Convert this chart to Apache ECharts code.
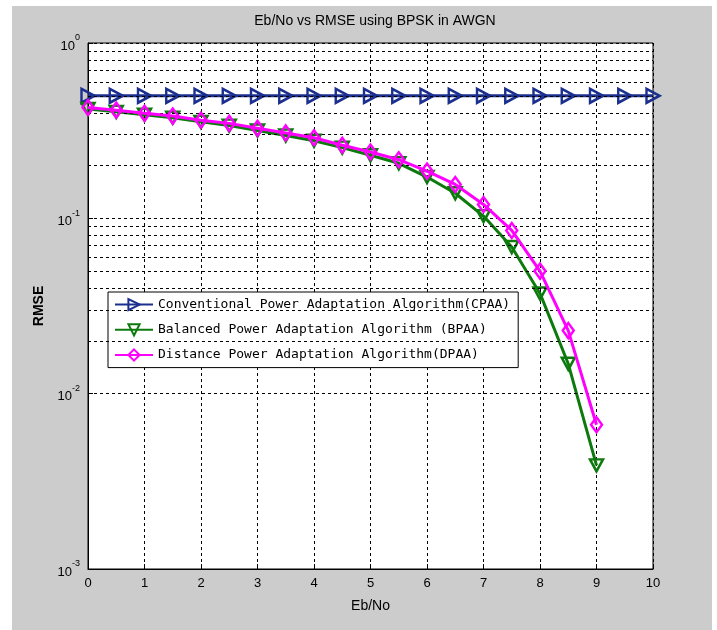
<!DOCTYPE html>
<html>
<head>
<meta charset="utf-8">
<script src="https://cdn.jsdelivr.net/npm/echarts@6/dist/echarts.min.js"></script>
<style>
html,body{margin:0;padding:0;background:#fff;}
#chart{width:717px;height:630px;}
</style>
</head>
<body>
<div id="chart"></div>
<script>
// ---- data ----
var titleText = 'Eb/No vs RMSE using BPSK in AWGN';
var xLabel = 'Eb/No';
var yLabel = 'RMSE';
var seriesNames = [
  'Conventional Power Adaptation Algorithm(CPAA)',
  'Balanced Power Adaptation Algorithm (BPAA)',
  'Distance Power Adaptation Algorithm(DPAA)'
];
var ebnoCPAA = [0,0.5,1,1.5,2,2.5,3,3.5,4,4.5,5,5.5,6,6.5,7,7.5,8,8.5,9,9.5,10];
var rmseCPAA = [0.5,0.5,0.5,0.5,0.5,0.5,0.5,0.5,0.5,0.5,0.5,0.5,0.5,0.5,0.5,0.5,0.5,0.5,0.5,0.5,0.5];
var ebnoOther = [0,0.5,1,1.5,2,2.5,3,3.5,4,4.5,5,5.5,6,6.5,7,7.5,8,8.5,9];
var rmseBPAA = [0.42,0.405,0.39,0.375,0.355,0.338,0.317,0.297,0.277,0.253,0.229,0.206,0.172,0.139,0.103,0.0686,0.0373,0.0148,0.0039];
var rmseDPAA = [0.429,0.414,0.397,0.383,0.363,0.348,0.326,0.307,0.288,0.261,0.239,0.216,0.186,0.156,0.120,0.0853,0.050,0.0229,0.00665];
var xTicks = [0,1,2,3,4,5,6,7,8,9,10];
var yDecades = [0.001,0.01,0.1,1];

// minor log grid positions (2..9 within each decade)
var minorGrid = [];
for (var d = 0; d < yDecades.length - 1; d++) {
  for (var k = 2; k <= 9; k++) minorGrid.push(yDecades[d] * k);
}

var colors = ['#1b2f8f', '#0d7a0d', '#ff00ff'];
function pair(xs, ys){ return xs.map(function(x,i){ return [x, ys[i]]; }); }

var chart = echarts.init(document.getElementById('chart'), null, {renderer:'canvas'});
var dash = [3,3];
chart.setOption({
  backgroundColor: '#ffffff',
  animation: false,
  graphic: [{
    type: 'rect', z: -100, silent: true,
    shape: {x: 12, y: 6, width: 700, height: 624},
    style: {fill: '#cccccc'}
  }],
  title: {
    text: titleText, left: 370, top: 9, textAlign: 'center',
    textStyle: {fontFamily: 'Liberation Sans Narrow, Liberation Sans, sans-serif', fontWeight: 'normal', fontSize: 14, color: '#000'}
  },
  grid: {
    left: 88, right: 64, top: 43, bottom: 61,
    show: true, backgroundColor: '#ffffff', borderColor: '#000', borderWidth: 1
  },
  legend: {
    orient: 'vertical', left: 108, top: 292,
    backgroundColor: '#ffffff', borderColor: '#000', borderWidth: 1,
    padding: [6, 8, 6, 6], itemGap: 12, itemWidth: 38, itemHeight: 14,
    textStyle: {fontFamily: 'DejaVu Sans Mono, monospace', fontSize: 13, color: '#000'},
    data: seriesNames
  },
  xAxis: {
    type: 'value', min: 0, max: 10, interval: 1,
    name: xLabel, nameLocation: 'middle', nameGap: 30,
    nameTextStyle: {fontFamily: 'Liberation Sans Narrow, Liberation Sans, sans-serif', fontSize: 14, color: '#000'},
    axisLine: {show: true, lineStyle: {color: '#000'}},
    axisTick: {inside: true, length: 5, lineStyle: {color: '#000'}},
    axisLabel: {color: '#000', fontSize: 13, margin: 8, fontFamily: 'Liberation Sans Narrow, Liberation Sans, sans-serif'},
    splitLine: {show: true, lineStyle: {color: '#000', type: dash, width: 1}}
  },
  yAxis: {
    type: 'log', logBase: 10, min: 0.001, max: 1,
    name: yLabel, nameLocation: 'middle', nameGap: 30,
    nameTextStyle: {fontFamily: 'Liberation Sans, Arial, sans-serif', fontSize: 14, color: '#000', fontWeight: 'bold'},
    axisLine: {show: true, lineStyle: {color: '#000'}},
    axisTick: {inside: true, length: 5, lineStyle: {color: '#000'}},
    axisLabel: {
      color: '#000', margin: 8, fontFamily: 'Liberation Sans Narrow, Liberation Sans, sans-serif',
      formatter: function(v){ var e = Math.round(Math.log(v)/Math.LN10); return '{b|10}{s|' + e + '}'; },
      rich: {
        b: {fontSize: 13, color: '#000', fontFamily: 'Liberation Sans Narrow, Liberation Sans, sans-serif', verticalAlign: 'bottom'},
        s: {fontSize: 9, color: '#000', fontFamily: 'Liberation Sans Narrow, Liberation Sans, sans-serif', verticalAlign: 'top', padding: [0,0,10,0]}
      }
    },
    splitLine: {show: true, lineStyle: {color: '#000', type: dash, width: 1}}
  },
  series: [
    {
      name: seriesNames[0], type: 'line', data: pair(ebnoCPAA, rmseCPAA),
      symbol: 'triangle', symbolRotate: -90, symbolSize: [14, 13], showAllSymbol: true,
      lineStyle: {color: colors[0], width: 3},
      itemStyle: {color: 'rgba(255,255,255,0)', borderColor: colors[0], borderWidth: 2.5},
      z: 3,
      markLine: {
        silent: true, symbol: 'none', animation: false,
        label: {show: false},
        lineStyle: {color: '#000', type: dash, width: 1},
        emphasis: {disabled: true},
        data: minorGrid.map(function(v){ return {yAxis: v}; })
      }
    },
    {
      name: seriesNames[1], type: 'line', data: pair(ebnoOther, rmseBPAA),
      symbol: 'triangle', symbolRotate: 180, symbolSize: [13, 12], showAllSymbol: true,
      lineStyle: {color: colors[1], width: 3},
      itemStyle: {color: 'rgba(255,255,255,0)', borderColor: colors[1], borderWidth: 2.5},
      z: 4
    },
    {
      name: seriesNames[2], type: 'line', data: pair(ebnoOther, rmseDPAA),
      symbol: 'diamond', symbolSize: [11, 15], showAllSymbol: true,
      lineStyle: {color: colors[2], width: 3},
      itemStyle: {color: 'rgba(255,255,255,0)', borderColor: colors[2], borderWidth: 2.5},
      z: 5
    }
  ]
});
</script>
</body>
</html>
